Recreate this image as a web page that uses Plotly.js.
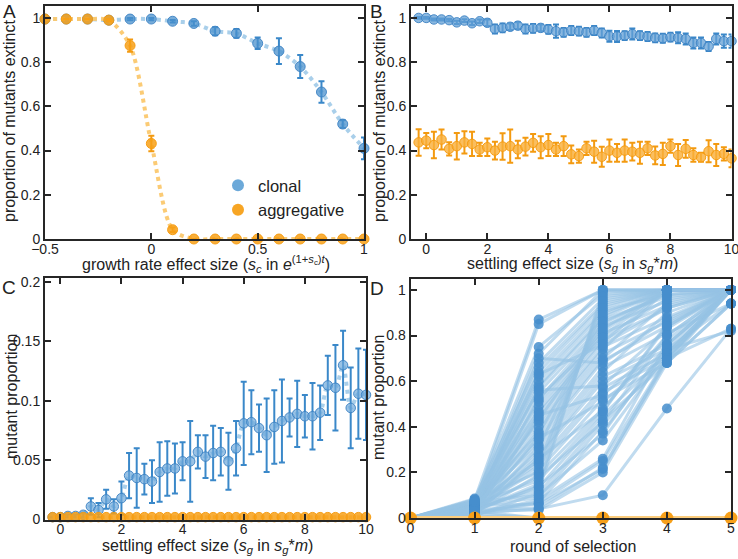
<!DOCTYPE html>
<html>
<head>
<meta charset="utf-8">
<script src="https://cdn.plot.ly/plotly-3.0.1.min.js"></script>
<style>html,body{margin:0;padding:0;background:#fff}#chart{width:738px;height:559px}</style>
</head>
<body>
<div id="chart"></div>
<script>
// ---------- Panel A : growth rate effect size ----------
const A_x = [-0.5,-0.4,-0.3,-0.2,-0.1,0,0.1,0.2,0.3,0.4,0.5,0.6,0.7,0.8,0.9,1.0];
const A_clonal = [0.995,0.995,0.995,0.99,0.995,0.995,0.985,0.975,0.94,0.93,0.885,0.85,0.78,0.665,0.52,0.41];
const A_clonal_err = [0,0,0,0.005,0.005,0.005,0.006,0.01,0.018,0.02,0.026,0.058,0.052,0.049,0.017,0.049];
const A_aggr = [0.995,0.995,0.995,0.99,0.875,0.432,0.042,0,0,0,0,0,0,0,0,0];
const A_aggr_err = [0,0,0,0.005,0.028,0.035,0.01,0,0,0,0,0,0,0,0,0];

// ---------- Panel B : settling effect size vs extinction ----------
const B_x = [-0.25,0,0.25,0.5,0.75,1,1.25,1.5,1.75,2,2.25,2.5,2.75,3,3.25,3.5,3.75,4,4.25,4.5,4.75,5,5.25,5.5,5.75,6,6.25,6.5,6.75,7,7.25,7.5,7.75,8,8.25,8.5,8.75,9,9.25,9.5,9.75,10];
const B_clonal = [1.0,1.0,0.993,0.993,0.99,0.98,0.988,0.976,0.985,0.978,0.95,0.955,0.96,0.965,0.95,0.953,0.955,0.948,0.94,0.935,0.943,0.94,0.935,0.943,0.932,0.917,0.916,0.92,0.927,0.92,0.916,0.91,0.908,0.913,0.91,0.905,0.887,0.887,0.871,0.905,0.895,0.895];
const B_clonal_err = [0.004,0.004,0.005,0.005,0.005,0.007,0.006,0.008,0.008,0.015,0.02,0.02,0.015,0.015,0.02,0.02,0.015,0.02,0.03,0.02,0.02,0.02,0.02,0.02,0.02,0.025,0.025,0.02,0.025,0.02,0.02,0.02,0.02,0.02,0.025,0.025,0.025,0.025,0.02,0.025,0.03,0.03];
const B_aggr = [0.437,0.445,0.425,0.45,0.408,0.42,0.437,0.43,0.405,0.415,0.4,0.418,0.42,0.405,0.418,0.435,0.415,0.425,0.405,0.42,0.383,0.375,0.41,0.395,0.372,0.4,0.39,0.4,0.395,0.39,0.41,0.378,0.385,0.42,0.38,0.408,0.38,0.37,0.397,0.38,0.385,0.365];
const B_aggr_err = [0.06,0.035,0.06,0.045,0.03,0.06,0.05,0.055,0.03,0.04,0.04,0.06,0.075,0.04,0.04,0.04,0.05,0.05,0.03,0.045,0.04,0.03,0.03,0.05,0.045,0.05,0.04,0.05,0.04,0.05,0.03,0.04,0.05,0.03,0.05,0.04,0.03,0.02,0.05,0.05,0.03,0.04];

// ---------- Panel C : settling effect size vs mutant proportion ----------
const C_x = [-0.25,0,0.25,0.5,0.75,1,1.25,1.5,1.75,2,2.25,2.5,2.75,3,3.25,3.5,3.75,4,4.25,4.5,4.75,5,5.25,5.5,5.75,6,6.25,6.5,6.75,7,7.25,7.5,7.75,8,8.25,8.5,8.75,9,9.25,9.5,9.75,10];
const C_clonal = [0.002,0.002,0.003,0.003,0.004,0.011,0.008,0.017,0.011,0.018,0.037,0.035,0.034,0.032,0.040,0.043,0.043,0.049,0.049,0.057,0.053,0.056,0.057,0.049,0.060,0.081,0.082,0.077,0.071,0.078,0.083,0.086,0.089,0.087,0.087,0.090,0.113,0.111,0.130,0.094,0.106,0.105];
const C_clonal_err = [0,0,0.001,0.001,0.002,0.007,0.006,0.008,0.006,0.014,0.019,0.025,0.013,0.018,0.025,0.023,0.021,0.016,0.034,0.014,0.018,0.023,0.02,0.024,0.023,0.035,0.027,0.02,0.031,0.031,0.035,0.016,0.028,0.018,0.028,0.023,0.025,0.036,0.029,0.034,0.038,0.038];
const C_aggr = [0.002,0.002,0.002,0.002,0.002,0.002,0.002,0.002,0.002,0.002,0.002,0.002,0.002,0.002,0.002,0.002,0.002,0.002,0.002,0.002,0.002,0.002,0.002,0.002,0.002,0.002,0.002,0.002,0.002,0.002,0.002,0.002,0.002,0.002,0.002,0.002,0.002,0.002,0.002,0.002,0.002,0.002];

// ---------- Panel D : rounds of selection (one entry per lineage) ----------
const D_rounds = [0,1,2,3,4,5];
const D_r0 = [0,0,0,0,0,0,0,0,0,0, 0,0,0,0,0,0,0,0,0,0, 0,0,0,0,0,0,0,0,0,0, 0,0,0,0,0,0,0,0,0,0, 0,0,0,0,0,0,0,0,0,0, 0,0,0,0,0,0,0,0,0, 0,0,0,0,0,0];
const D_r1 = [0.08,0.06,0.07,0.05,0.085,0.04,0.06,0.03,0.075,0.05, 0.02,0.065,0.04,0.055,0.03,0.07,0.045,0.02,0.06,0.035, 0.05,0.01,0.04,0.065,0.025,0.05,0.015,0.07,0.03,0.045, 0.02,0.06,0.035,0.01,0.05,0.025,0.02,0.03,0.055,0.015, 0.045,0.03,0.08,0.05,0.02,0.065,0.04,0.01,0.06,0.035, 0.075,0.025,0.05,0.015,0.045,0.03,0.07,0.02,0.04, 0,0.01,0.02,0,0.005,0.03];
const D_r2 = [0.87,0.85,0.75,0.72,0.68,0.66,0.64,0.62,0.60,0.58, 0.57,0.55,0.52,0.51,0.49,0.47,0.46,0.44,0.42,0.40, 0.38,0.36,0.34,0.32,0.30,0.28,0.27,0.25,0.23,0.21, 0.19,0.165,0.135,0.11,0.09,0.07,0.04,0.035,0.06,0.08, 0.12,0.15,0.20,0.24,0.31,0.37,0.43,0.53,0.63,0.70, 0.56,0.45,0.35,0.26,0.18,0.14,0.10,0.065,0.045, 0,0,0,0,0,0];
const D_r3 = [1.0,1.0,0.98,1.0,0.96,0.94,0.93,0.91,0.90,0.88, 0.87,0.85,0.84,0.82,0.81,0.80,0.78,0.77,0.75,0.74, 0.72,0.70,0.69,0.66,0.64,0.62,0.60,0.57,0.55,0.52, 0.48,0.465,0.45,0.43,0.41,0.38,0.10,0.20,0.215,0.26, 0.99,0.97,0.95,0.92,0.89,0.86,0.83,0.79,0.76,0.68, 0.58,0.54,0.51,0.47,0.42,0.37,0.34,0.25,0.22, 0,0,0,0,0,0];
const D_r4 = [1,1,1,1,1,1,1,0.98,1,1, 0.97,1,0.95,1,0.93,1,0.92,1,0.88,1, 0.86,0.94,0.84,0.81,0.90,0.76,0.74,0.72,0.70,0.68, 0.80,0.85,0.72,0.68,0.70,0.74,0.48,0.68,0.70,0.76, 1,1,1,1,1,0.98,1,0.96,0.92,0.87, 0.83,0.78,0.74,0.84,0.80,0.76,0.72,0.70,0.69, 0,0,0,0,0,0];
const D_r5 = [1,1,1,1,1,1,1,1,1,1, 1,1,1,1,1,1,1,1,1,1, 1,1,1,0.94,1,1,0.94,1,0.83,1, 1,1,1,0.94,1,0.82,0.83,0.94,1,1, 1,1,1,1,1,1,1,1,1,1, 1,1,1,1,1,1,1,1,1, 0,0,0,0,0,0];
const D_aggr = [0,0,0,0,0,0];

// ---------- styles ----------
const FONT = 'Liberation Sans, Arial, Helvetica, sans-serif';
const BLUE = 'rgba(74,144,204,0.75)';
const BLUE_EDGE = 'rgba(60,130,195,0.9)';
const BLUE_ERR = '#3a88c9';
const BLUE_LINE = 'rgba(160,202,232,0.9)';
const ORANGE = 'rgba(247,160,24,0.85)';
const ORANGE_EDGE = 'rgba(245,155,15,0.95)';
const ORANGE_ERR = '#f39a10';
const ORANGE_LINE = 'rgba(251,200,110,0.95)';

function axis(domain, range, tickvals, anchor, extra) {
  return Object.assign({
    domain: domain, range: range, tickvals: tickvals, anchor: anchor,
    showline: true, linewidth: 2, linecolor: '#262626', mirror: 'ticks',
    ticks: 'inside', ticklen: 6, tickwidth: 2, tickcolor: '#262626',
    showgrid: false, zeroline: false, ticklabeloverflow: 'allow',
    tickfont: {family: FONT, size: 14, color: '#222'}
  }, extra || {});
}
const XEXTRA = {ticklabelstandoff: -4};
const YEXTRA = {ticklabelstandoff: 0};

const traces = [];
function errTrace(x, y, err, xa, ya, mcol, ecol, edgecol, size, name) {
  return {x: x, y: y, xaxis: xa, yaxis: ya, type: 'scatter', mode: 'markers', showlegend: false, cliponaxis: false, name: name,
    marker: {color: mcol, size: size, line: {color: edgecol, width: 1}},
    error_y: {type: 'data', array: err, visible: true, color: ecol, thickness: 2, width: 3}};
}
function dotLine(x, y, xa, ya, col) {
  return {x: x, y: y, xaxis: xa, yaxis: ya, type: 'scatter', mode: 'lines', showlegend: false, hoverinfo: 'skip',
    line: {color: col, width: 4, dash: 'dot', shape: 'spline', smoothing: 0.8}};
}

// Panel A
traces.push(dotLine(A_x, A_clonal, 'x', 'y', BLUE_LINE));
traces.push(errTrace(A_x, A_clonal, A_clonal_err, 'x', 'y', BLUE, BLUE_ERR, BLUE_EDGE, 10, 'clonal'));
traces.push(dotLine(A_x, A_aggr, 'x', 'y', ORANGE_LINE));
traces.push(errTrace(A_x, A_aggr, A_aggr_err, 'x', 'y', ORANGE, ORANGE_ERR, ORANGE_EDGE, 10, 'aggregative'));
// legend entries
traces.push({x: [null], y: [null], xaxis: 'x', yaxis: 'y', type: 'scatter', mode: 'markers', name: 'clonal', showlegend: true,
  marker: {color: 'rgba(100,164,215,0.95)', size: 13}});
traces.push({x: [null], y: [null], xaxis: 'x', yaxis: 'y', type: 'scatter', mode: 'markers', name: 'aggregative', showlegend: true,
  marker: {color: 'rgba(247,160,24,0.95)', size: 13}});

// Panel B
traces.push(errTrace(B_x, B_clonal, B_clonal_err, 'x2', 'y2', 'rgba(100,160,214,0.75)', BLUE_ERR, BLUE_EDGE, 9.5, 'clonal'));
traces.push(errTrace(B_x, B_aggr, B_aggr_err, 'x2', 'y2', 'rgba(249,176,60,0.82)', ORANGE_ERR, ORANGE_EDGE, 9.5, 'aggregative'));

// Panel C
traces.push(dotLine(C_x, C_clonal, 'x3', 'y3', BLUE_LINE));
traces.push(errTrace(C_x, C_clonal, C_clonal_err, 'x3', 'y3', 'rgba(110,168,218,0.7)', BLUE_ERR, BLUE_EDGE, 9.5, 'clonal'));
traces.push(dotLine(C_x, C_aggr, 'x3', 'y3', ORANGE_LINE));
traces.push({x: C_x, y: C_aggr, xaxis: 'x3', yaxis: 'y3', type: 'scatter', mode: 'markers', showlegend: false, cliponaxis: false,
  marker: {color: 'rgba(247,160,24,0.85)', size: 9.5, line: {color: ORANGE_EDGE, width: 1}}});

// Panel D lineages
const D_all = [D_r0, D_r1, D_r2, D_r3, D_r4, D_r5];
const nLin = D_r1.length;
for (let i = 0; i < nLin; i++) {
  traces.push({x: D_rounds, y: D_all.map(r => r[i]), xaxis: 'x4', yaxis: 'y4', type: 'scatter', mode: 'lines',
    showlegend: false, hoverinfo: 'skip', line: {color: 'rgba(150,195,228,0.6)', width: 3}});
}
const D_px = [], D_py = [];
for (let i = 0; i < nLin; i++) { for (let r = 0; r < D_rounds.length; r++) { D_px.push(D_rounds[r]); D_py.push(D_all[r][i]); } }
traces.push({x: D_px, y: D_py, xaxis: 'x4', yaxis: 'y4', type: 'scatter', mode: 'markers', showlegend: false, cliponaxis: false,
  marker: {color: 'rgba(70,142,204,0.85)', size: 10}});
traces.push({x: D_rounds, y: D_aggr, xaxis: 'x4', yaxis: 'y4', type: 'scatter', mode: 'lines+markers', showlegend: false, cliponaxis: false,
  line: {color: 'rgba(252,205,125,1)', width: 4}, marker: {color: '#f7a01a', size: 13}});

const W = 738, H = 559;
const px = v => v / W, py = v => 1 - v / H;

const layout = {
  width: W, height: H, margin: {l: 0, r: 0, t: 0, b: 0},
  paper_bgcolor: '#fff', plot_bgcolor: '#fff',
  font: {family: FONT, color: '#222'},
  xaxis: axis([px(45), px(364)], [-0.5, 1], [-0.5, 0, 0.5, 1], 'y', XEXTRA),
  yaxis: axis([py(239), py(6)], [0, 1.054], [0, 0.2, 0.4, 0.6, 0.8, 1], 'x', YEXTRA),
  xaxis2: axis([px(411), px(731.5)], [-0.5, 10], [0, 2, 4, 6, 8, 10], 'y2', XEXTRA),
  yaxis2: axis([py(239), py(6)], [0, 1.054], [0, 0.2, 0.4, 0.6, 0.8, 1], 'x2', YEXTRA),
  xaxis3: axis([px(45), px(366)], [-0.5, 10], [0, 2, 4, 6, 8, 10], 'y3', XEXTRA),
  yaxis3: axis([py(519.5), py(278)], [0, 0.2035], [0, 0.05, 0.1, 0.15, 0.2], 'x3', YEXTRA),
  xaxis4: axis([px(410.5), px(731)], [0, 5], [0, 1, 2, 3, 4, 5], 'y4', XEXTRA),
  yaxis4: axis([py(518), py(278.5)], [0, 1.05], [0, 0.2, 0.4, 0.6, 0.8, 1], 'x4', YEXTRA),
  showlegend: true,
  legend: {x: px(218), y: py(168), xanchor: 'left', yanchor: 'top', bgcolor: 'rgba(0,0,0,0)',
    font: {family: FONT, size: 16.5, color: '#222'}, tracegroupgap: 0, itemsizing: 'constant'},
  annotations: []
};

function ann(text, x, y, size, angle) {
  layout.annotations.push({text: text, x: px(x), y: py(y), xref: 'paper', yref: 'paper', showarrow: false,
    xanchor: 'center', yanchor: 'middle', textangle: angle || 0, font: {family: FONT, size: size, color: '#222'}});
}
// panel letters
ann('A', 9, 11, 19);
ann('B', 376, 11, 19);
ann('C', 9, 287, 19);
ann('D', 377, 288, 19);
// axis titles
ann('growth rate effect size (<i>s<sub>c</sub></i> in <i>e</i><sup>(1+<i>s</i><sub>c</sub>)<i>t</i></sup>)', 206, 264.5, 16);
ann('settling effect size (<i>s<sub>g</sub></i> in <i>s<sub>g</sub></i>*<i>m</i>)', 572, 264.5, 16);
ann('settling effect size (<i>s<sub>g</sub></i> in <i>s<sub>g</sub></i>*<i>m</i>)', 207, 546, 16);
ann('round of selection', 573, 546, 16);
ann('proportion of mutants extinct', 10, 121, 16, -90);
ann('proportion of mutants extinct', 380, 121, 16, -90);
ann('mutant proportion', 11, 397, 16, -90);
ann('mutant proportion', 378, 398, 16, -90);

Plotly.newPlot('chart', traces, layout, {staticPlot: true, displayModeBar: false});
</script>
</body>
</html>
